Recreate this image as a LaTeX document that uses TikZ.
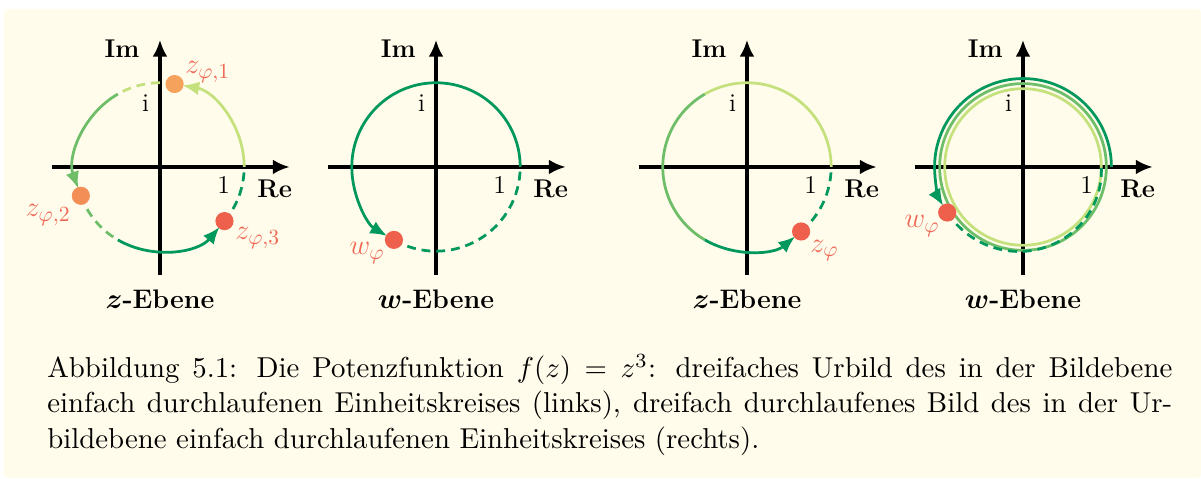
\documentclass[tikz,border=0pt]{standalone}
\usepackage{amsmath}
\usetikzlibrary{arrows.meta}
\definecolor{hellgruen}{RGB}{197,225,125}
\definecolor{mittelgruen}{RGB}{110,190,105}
\definecolor{dunkelgruen}{RGB}{0,152,92}
\definecolor{orangeeins}{RGB}{245,163,92}
\definecolor{orangezwei}{RGB}{243,142,86}
\definecolor{punktrot}{RGB}{238,96,76}
\definecolor{beschriftrot}{RGB}{240,104,84}
\definecolor{creme}{RGB}{255,252,235}
\tikzset{
  achse/.style={line width=1.6pt,-{Latex[length=8.5pt,width=7.5pt]}},
  bogen/.style={line width=1.4pt},
  pfeilbogen/.style={bogen,-{Latex[length=8.5pt,width=7pt]},shorten >=4pt},
  strichbogen/.style={bogen,dash pattern=on 4.5pt off 3pt},
  punkt/.style={radius=4.6pt},
  zlabel/.style={text=beschriftrot,inner sep=0pt,font=\fontsize{15}{17}\selectfont},
  achslabel/.style={inner sep=0pt,font=\fontsize{13}{15}\selectfont}
}
\begin{document}
\begin{tikzpicture}[x=1.5cm,y=1.5cm]
  \useasboundingbox (-1.900,1.983) rectangle (12.363,-3.694);
  \fill[creme,rounded corners=2pt] (-1.853,1.877) rectangle (12.363,-3.694);
  \foreach \ox/\eb in {0/z,3.278/w,6.971/z,10.249/w} {
    \begin{scope}[shift={(\ox,0)}]
      \draw[achse] (-1.283,0) -- (1.54,0);
      \draw[achse] (0,-1.283) -- (0,1.51);
      \node[achslabel,anchor=base east] at (-0.238,1.295) {\textbf{Im}};
      \node[achslabel,anchor=base west] at (1.152,-0.368) {\textbf{Re}};
      \node[achslabel,anchor=base east] at (0.835,-0.31) {1};
      \node[achslabel,anchor=base east] at (-0.125,0.653) {i};
      \node[achslabel,font=\fontsize{13.6}{16}\selectfont,anchor=base] at (0,-1.686) {$\boldsymbol{\eb}$\textbf{-Ebene}};
    \end{scope}
  }
  % dreifaches Urbild
  \begin{scope}
    \draw[pfeilbogen,hellgruen] (0:1) arc[start angle=0,end angle=80,radius=1];
    \draw[strichbogen,hellgruen] (80:1) arc[start angle=80,end angle=120,radius=1];
    \draw[pfeilbogen,mittelgruen] (120:1) arc[start angle=120,end angle=200,radius=1];
    \draw[strichbogen,mittelgruen] (200:1) arc[start angle=200,end angle=240,radius=1];
    \draw[pfeilbogen,dunkelgruen] (240:1) arc[start angle=240,end angle=320,radius=1];
    \draw[strichbogen,dunkelgruen] (320:1) arc[start angle=320,end angle=360,radius=1];
    \coordinate (z1) at (80:1);
    \coordinate (z2) at (200:1);
    \coordinate (z3) at (320:1);
    \fill[orangeeins] (z1) circle[punkt];
    \fill[orangezwei] (z2) circle[punkt];
    \fill[punktrot] (z3) circle[punkt];
    \node[zlabel,anchor=base west] at (0.297,1.105) {$z_{\varphi,1}$};
    \node[zlabel,anchor=base east] at (-1.057,-0.594) {$z_{\varphi,2}$};
    \node[zlabel,anchor=base west] at (0.891,-0.867) {$z_{\varphi,3}$};
  \end{scope}
  % einfaches Bild
  \begin{scope}[shift={(3.278,0)}]
    \draw[pfeilbogen,dunkelgruen] (0:1) arc[start angle=0,end angle=240,radius=1];
    \draw[strichbogen,dunkelgruen] (240:1) arc[start angle=240,end angle=360,radius=1];
    \coordinate (w1) at (240:1);
    \fill[punktrot] (w1) circle[punkt];
    \node[zlabel,anchor=base east] at (-0.606,-1.045) {$w_{\varphi}$};
  \end{scope}
  % einfaches Urbild
  \begin{scope}[shift={(6.971,0)}]
    \draw[bogen,hellgruen] (0:1) arc[start angle=0,end angle=120,radius=1];
    \draw[bogen,mittelgruen] (120:1) arc[start angle=120,end angle=240,radius=1];
    \draw[pfeilbogen,dunkelgruen] (240:1) arc[start angle=240,end angle=310,radius=1];
    \draw[strichbogen,dunkelgruen] (310:1) arc[start angle=310,end angle=360,radius=1];
    \coordinate (z0) at (310:1);
    \fill[punktrot] (z0) circle[punkt];
    \node[zlabel,anchor=base west] at (0.748,-1.01) {$z_{\varphi}$};
  \end{scope}
  % dreifaches Bild
  \begin{scope}[shift={(10.249,0)}]
    \draw[bogen,hellgruen] (0,0) circle[radius=0.93];
    \draw[bogen,mittelgruen] (0,0) circle[radius=0.99];
    \draw[pfeilbogen,dunkelgruen] (0:1.05) arc[start angle=0,end angle=211,radius=1.05];
    \draw[strichbogen,dunkelgruen] plot[domain=211:360,samples=60,smooth] (\x:{1.05-0.12*(\x-211)/149});
    \coordinate (w3) at (211:1.05);
    \fill[punktrot] (w3) circle[punkt];
    \node[zlabel,anchor=base east] at (-0.986,-0.724) {$w_{\varphi}$};
  \end{scope}
  \node[anchor=north west,inner sep=0pt] (caption) at (-1.342,-2.2)
    {\scalebox{1.46}{\parbox[t]{13.726cm}{\fontsize{10}{12.33}\selectfont\strut
    Abbildung 5.1: Die Potenzfunktion $f(z)=z^3$: dreifaches Urbild des in der Bildebene\linebreak
    einfach durchlaufenen Einheitskreises (links), dreifach durchlaufenes Bild des in der Ur-\linebreak
    bildebene einfach durchlaufenen Einheitskreises (rechts).}}};
\end{tikzpicture}
\end{document}
